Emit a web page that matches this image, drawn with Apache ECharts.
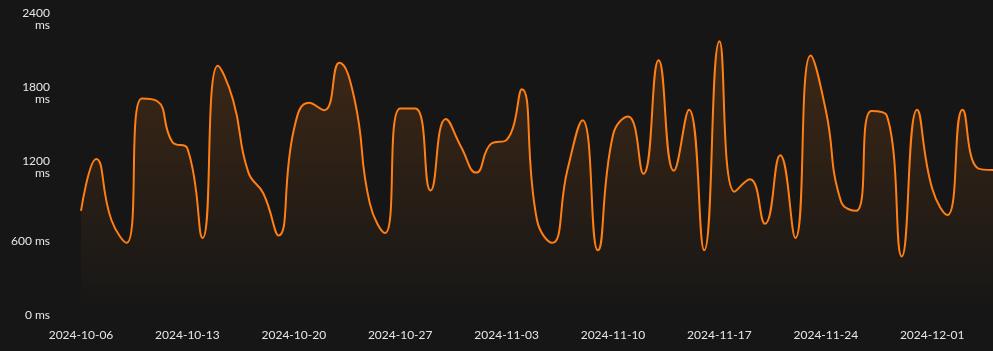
<!DOCTYPE html>
<html>
<head>
    <meta charset="UTF-8">
    <title>Response time</title>
    <style>
        html, body { margin: 0; padding: 0; background: #161616; }
        #chart { width: 993px; height: 351px; }
    </style>
</head>
<body>
    <div id="chart"></div>
    <script src="https://cdn.jsdelivr.net/npm/echarts@6/dist/echarts.min.js"></script>
    <script>
        // daily dates, 2024-10-06 .. 2024-12-05
        var dates = [];
        var start = Date.UTC(2024, 9, 6);
        for (var i = 0; i < 61; i++) {
            dates.push(new Date(start + i * 86400000).toISOString().slice(0, 10));
        }

        // response time in ms
        var latency = [
            845, 1265, 770, 585, 1755, 1735, 1405, 1350, 625, 2020,
            1745, 1160, 985, 645, 1500, 1720, 1660, 2045, 1745, 905,
            665, 1675, 1675, 1010, 1590, 1365, 1155, 1390, 1420, 1830,
            770, 585, 1175, 1580, 525, 1460, 1610, 1145, 2065, 1170,
            1665, 525, 2220, 1000, 1100, 740, 1295, 625, 2105, 1660,
            920, 845, 1655, 1620, 475, 1665, 1025, 810, 1665, 1190,
            1175
        ];

        var yTicks = [0, 600, 1200, 1800, 2400];

        var chart = echarts.init(document.getElementById('chart'));
        var option = {
            backgroundColor: '#161616',
            animation: false,
            grid: {
                left: 81,
                right: 0,
                top: 19,
                bottom: 36
            },
            xAxis: {
                type: 'category',
                boundaryGap: false,
                data: dates,
                axisLine: { show: false },
                axisTick: { show: false },
                axisLabel: {
                    interval: 6,
                    color: '#e6e6e6',
                    fontFamily: 'Lato',
                    fontSize: 12,
                    margin: 14
                }
            },
            yAxis: {
                type: 'value',
                min: yTicks[0],
                max: yTicks[yTicks.length - 1],
                interval: 600,
                splitLine: { show: false },
                axisLine: { show: false },
                axisTick: { show: false },
                axisLabel: {
                    color: '#e6e6e6',
                    fontFamily: 'Lato',
                    fontSize: 12,
                    lineHeight: 12,
                    margin: 31,
                    align: 'right',
                    formatter: function (v) {
                        return v >= 1000 ? v + '\nms' : v + ' ms';
                    }
                }
            },
            series: [{
                type: 'line',
                data: latency,
                smooth: true,
                symbol: 'none',
                lineStyle: { color: '#ff7f14', width: 2 },
                areaStyle: {
                    color: new echarts.graphic.LinearGradient(0, 0, 0, 1, [
                        { offset: 0, color: 'rgba(255,127,20,0.25)' },
                        { offset: 1, color: 'rgba(255,127,20,0)' }
                    ])
                }
            }]
        };
        chart.setOption(option);
    </script>
</body>
</html>
